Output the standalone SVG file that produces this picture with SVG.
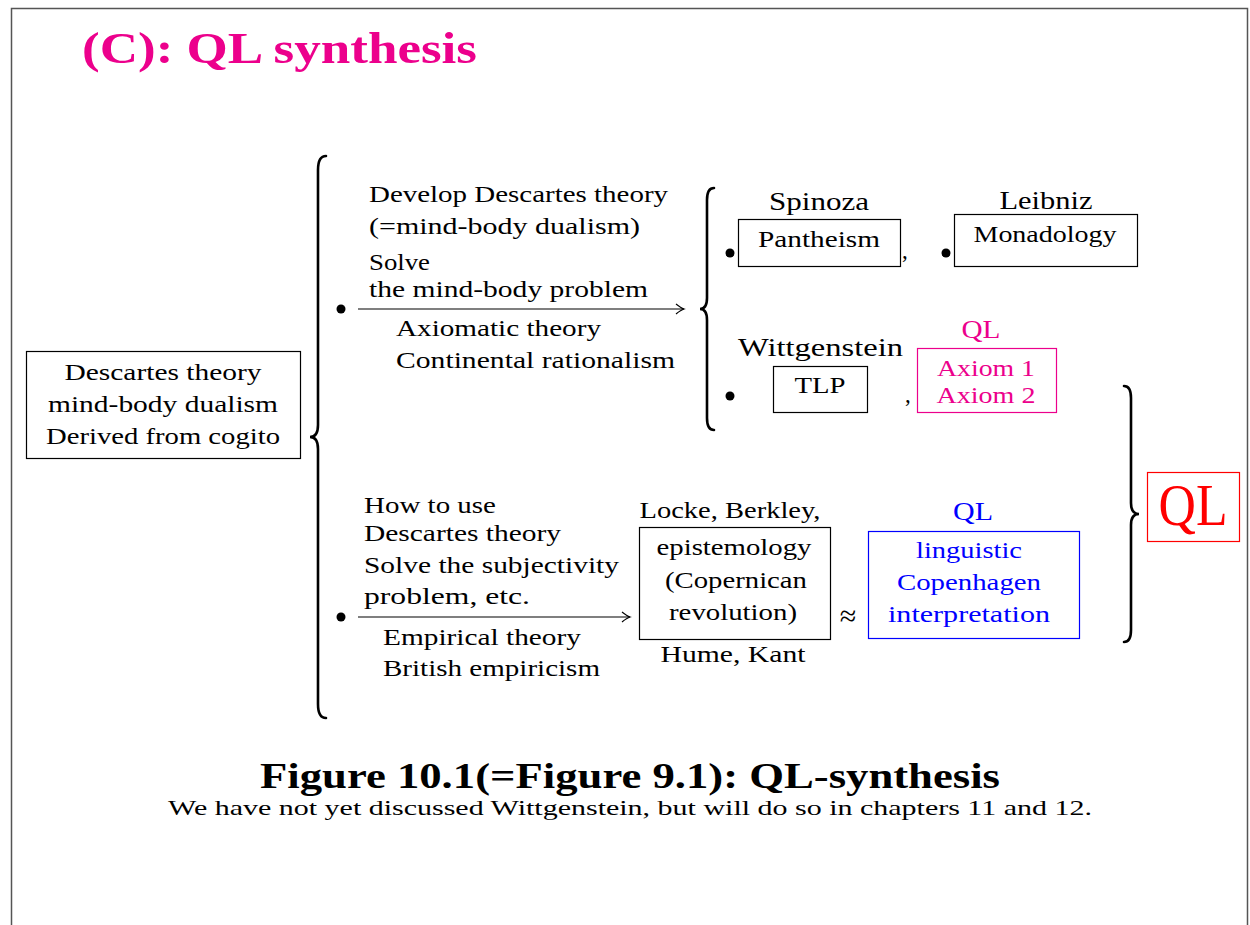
<svg xmlns="http://www.w3.org/2000/svg" width="1250" height="925" viewBox="0 0 1250 925">
<defs>
<style>
text{font-family:"Liberation Serif","DejaVu Serif",serif;fill:#000}
.t{font-size:23px}
.b{font-size:24px}
.c{text-anchor:middle}
.box{fill:none;stroke:#000;stroke-width:1.2}
.br{fill:none;stroke:#000;stroke-width:2.6;stroke-linecap:round}
.ln{stroke:#000;stroke-width:1.2;fill:none}
.mag{fill:#EC008C}
.blu{fill:#0000FF}
</style>
<marker id="ah" viewBox="-10 -6 12 12" markerWidth="12" markerHeight="12" refX="0" refY="0" orient="auto" markerUnits="userSpaceOnUse">
<path d="M-8,-5 Q-3,-1 0,0 Q-3,1 -8,5" fill="none" stroke="#000" stroke-width="1.2"/>
</marker>
</defs>
<rect width="1250" height="925" fill="#fff"/>
<path d="M11.5,925 L11.5,8.5 L1247.5,8.5 L1247.5,925" fill="none" stroke="#555" stroke-width="1.5"/>
<text x="82" y="63" style="font-size:44px;font-weight:bold" class="mag" textLength="395" lengthAdjust="spacingAndGlyphs">(C): QL synthesis</text>

<g id="descartes">
<rect class="box" x="26.5" y="351.5" width="274" height="107"/>
<text class="b c" x="163" y="380" textLength="197" lengthAdjust="spacingAndGlyphs">Descartes theory</text>
<text class="b c" x="163" y="412" textLength="230" lengthAdjust="spacingAndGlyphs">mind-body dualism</text>
<text class="b c" x="163" y="444" textLength="234" lengthAdjust="spacingAndGlyphs">Derived from cogito</text>
</g>

<g id="connectors">
<path class="br" d="M326,156 Q318,156 318,170 L318,425 Q318,437 310,437 Q318,437 318,449 L318,704 Q318,718 326,718"/>
<path class="br" d="M714,188 Q707,188 707,200 L707,298 Q707,309 700,309 Q707,309 707,320 L707,418 Q707,430 714,430"/>
<path class="br" d="M1124,386 Q1131,386 1131,398 L1131,503 Q1131,514 1139,514 Q1131,514 1131,525 L1131,630 Q1131,642 1124,642"/>
<line class="ln" x1="358" y1="309" x2="684" y2="309" marker-end="url(#ah)"/>
<line class="ln" x1="358" y1="617" x2="630" y2="617" marker-end="url(#ah)"/>
</g>

<g id="upper-branch">
<circle cx="341" cy="309" r="4.5"/>
<text class="t" x="369" y="202" textLength="299" lengthAdjust="spacingAndGlyphs">Develop Descartes theory</text>
<text class="t" x="369" y="234" textLength="271" lengthAdjust="spacingAndGlyphs">(=mind-body dualism)</text>
<text class="t" x="369" y="270" textLength="61" lengthAdjust="spacingAndGlyphs">Solve</text>
<text class="t" x="369" y="297" textLength="279" lengthAdjust="spacingAndGlyphs">the mind-body problem</text>
<text class="t" x="396" y="336" textLength="205" lengthAdjust="spacingAndGlyphs">Axiomatic theory</text>
<text class="t" x="396" y="368" textLength="279" lengthAdjust="spacingAndGlyphs">Continental rationalism</text>
</g>

<g id="spinoza">
<circle cx="730" cy="253" r="4.5"/>
<text class="c" x="819" y="210" style="font-size:26px" textLength="100" lengthAdjust="spacingAndGlyphs">Spinoza</text>
<rect class="box" x="738.5" y="219.5" width="162" height="47"/>
<text class="t c" x="819" y="247" textLength="122" lengthAdjust="spacingAndGlyphs">Pantheism</text>
<text class="t" x="902" y="258">,</text>
</g>

<g id="leibniz">
<circle cx="946" cy="253" r="4.5"/>
<text class="c" x="1046" y="209" style="font-size:26px" textLength="93" lengthAdjust="spacingAndGlyphs">Leibniz</text>
<rect class="box" x="954.5" y="214.5" width="183" height="52"/>
<text class="t c" x="1045" y="242" textLength="143" lengthAdjust="spacingAndGlyphs">Monadology</text>
</g>

<g id="wittgenstein">
<circle cx="730" cy="396" r="4.5"/>
<text x="738" y="356" style="font-size:26px" textLength="165" lengthAdjust="spacingAndGlyphs">Wittgenstein</text>
<rect class="box" x="773.5" y="366.5" width="94" height="46"/>
<text class="t c" x="820" y="393" textLength="51" lengthAdjust="spacingAndGlyphs">TLP</text>
<text class="t" x="905" y="402">,</text>
</g>

<g id="ql-axiom">
<text class="c mag" x="981" y="338" style="font-size:26px" textLength="39" lengthAdjust="spacingAndGlyphs">QL</text>
<rect x="917.5" y="348.5" width="139" height="64" fill="none" stroke="#EC008C" stroke-width="1.2"/>
<text class="t c mag" x="986" y="376" textLength="98" lengthAdjust="spacingAndGlyphs">Axiom 1</text>
<text class="t c mag" x="986" y="403" textLength="99" lengthAdjust="spacingAndGlyphs">Axiom 2</text>
</g>

<g id="lower-branch">
<circle cx="341" cy="617" r="4.5"/>
<text class="t" x="364" y="513" textLength="132" lengthAdjust="spacingAndGlyphs">How to use</text>
<text class="t" x="364" y="541" textLength="197" lengthAdjust="spacingAndGlyphs">Descartes theory</text>
<text class="t" x="364" y="573" textLength="255" lengthAdjust="spacingAndGlyphs">Solve the subjectivity</text>
<text class="t" x="364" y="604" textLength="166" lengthAdjust="spacingAndGlyphs">problem, etc.</text>
<text class="t" x="383" y="645" textLength="198" lengthAdjust="spacingAndGlyphs">Empirical theory</text>
<text class="t" x="383" y="676" textLength="217" lengthAdjust="spacingAndGlyphs">British empiricism</text>
</g>

<g id="epistemology">
<text class="t c" x="730" y="518" textLength="181" lengthAdjust="spacingAndGlyphs">Locke, Berkley,</text>
<rect class="box" x="639.5" y="527.5" width="191" height="112"/>
<text class="t c" x="734" y="555" textLength="155" lengthAdjust="spacingAndGlyphs">epistemology</text>
<text class="t c" x="736" y="588" textLength="142" lengthAdjust="spacingAndGlyphs">(Copernican</text>
<text class="t c" x="733" y="620" textLength="128" lengthAdjust="spacingAndGlyphs">revolution)</text>
<text class="t c" x="733" y="662" textLength="145" lengthAdjust="spacingAndGlyphs">Hume, Kant</text>
<text class="c" x="848" y="626" style="font-size:30px">≈</text>
</g>

<g id="ql-copenhagen">
<text class="c blu" x="973" y="520" style="font-size:26px" textLength="40" lengthAdjust="spacingAndGlyphs">QL</text>
<rect x="868.5" y="531.5" width="211" height="107" fill="none" stroke="#0000FF" stroke-width="1.2"/>
<text class="t c blu" x="969" y="558" textLength="106" lengthAdjust="spacingAndGlyphs">linguistic</text>
<text class="t c blu" x="969" y="590" textLength="144" lengthAdjust="spacingAndGlyphs">Copenhagen</text>
<text class="t c blu" x="969" y="622" textLength="162" lengthAdjust="spacingAndGlyphs">interpretation</text>
</g>

<g id="ql-final">
<rect x="1147.5" y="472.5" width="92" height="69" fill="none" stroke="#FF0000" stroke-width="1.2"/>
<text class="c" x="1193" y="525" style="font-size:60px;fill:#FF0000" textLength="69" lengthAdjust="spacingAndGlyphs">QL</text>
</g>

<text class="c" x="630" y="788" style="font-size:36px;font-weight:bold" textLength="740" lengthAdjust="spacingAndGlyphs">Figure 10.1(=Figure 9.1): QL-synthesis</text>
<text class="c" x="630" y="815" style="font-size:22px" textLength="924" lengthAdjust="spacingAndGlyphs">We have not yet discussed Wittgenstein, but will do so in chapters 11 and 12.</text>
</svg>
